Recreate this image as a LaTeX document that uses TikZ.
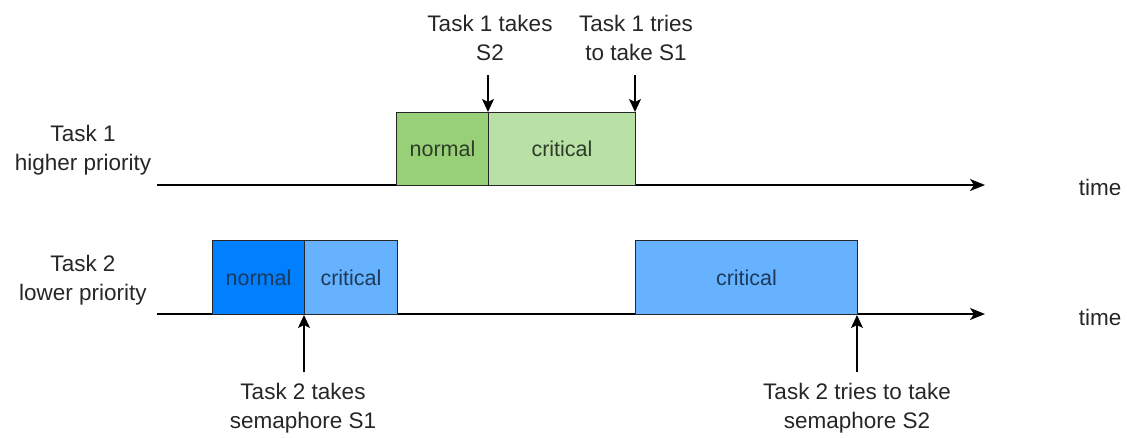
\documentclass[tikz,border=0pt]{standalone}
\usepackage{fontspec}
\setmainfont{Liberation Sans}
\usetikzlibrary{arrows.meta}
\definecolor{greenA}{HTML}{97D077}
\definecolor{greenB}{HTML}{B9E0A5}
\definecolor{blueA}{HTML}{007FFF}
\definecolor{blueB}{HTML}{66B2FF}
\definecolor{inkG}{HTML}{2E3D28}
\definecolor{inkB}{HTML}{1C3A5C}
\begin{document}
\begin{tikzpicture}[x=1pt,y=-1pt,
  lbl/.style={font=\fontsize{22.5}{28.5}\selectfont, text=black!85, align=center, inner sep=0pt, anchor=base},
  slot/.style={draw=black!85, line width=1pt, anchor=north west, inner sep=0pt,
               font=\fontsize{21.5}{24}\selectfont},
  timeline/.style={line width=1.5pt, -{Stealth[length=15pt,width=12pt,inset=4pt]}},
  pointer/.style={line width=1.5pt, -{Stealth[length=13pt,width=12pt,inset=3pt]}}]
\useasboundingbox (0,0) rectangle (1127,437);

% time axes
\coordinate (a1s) at (157,185);
\coordinate (a1e) at (985,185);
\coordinate (a2s) at (157,314);
\coordinate (a2e) at (985,314);
\draw[timeline] (a1s) -- (a1e);
\draw[timeline] (a2s) -- (a2e);

% task 1 slots
\node[slot, fill=greenA, text=inkG, minimum width=92pt, minimum height=73pt] (n1) at (396,112) {normal};
\node[slot, fill=greenB, text=inkG, minimum width=147pt, minimum height=73pt] (c1) at (488,112) {critical};

% task 2 slots
\node[slot, fill=blueA, text=inkB, minimum width=92pt, minimum height=74pt] (n2) at (212,240) {normal};
\node[slot, fill=blueB, text=inkB, minimum width=93pt, minimum height=74pt] (c2) at (304,240) {critical};
\node[slot, fill=blueB, text=inkB, minimum width=222pt, minimum height=74pt] (c3) at (635,240) {critical};

% row labels (anchored on the baseline of their last line)
\node[lbl] (task1) at (83,170) {Task 1\\higher priority};
\node[lbl] (task2) at (83,300) {Task 2\\lower priority};
\node[lbl] (time1) at (1100,195) {time};
\node[lbl] (time2) at (1100,325) {time};

% event labels and pointers
\node[lbl] (e1) at (490,60) {Task 1 takes\\S2};
\node[lbl] (e2) at (636,60) {Task 1 tries\\to take S1};
\node[lbl] (e3) at (303,428) {Task 2 takes\\semaphore S1};
\node[lbl] (e4) at (857,428) {Task 2 tries to take\\semaphore S2};

\coordinate (p1) at (488,75);
\coordinate (p2) at (635,75);
\coordinate (p3) at (304,372);
\coordinate (p4) at (857,372);
\draw[pointer] (p1) -- (p1 |- c1.north west);
\draw[pointer] (p2) -- (p2 |- c1.north east);
\draw[pointer] (p3) -- (p3 |- n2.south east);
\draw[pointer] (p4) -- (p4 |- c3.south east);
\end{tikzpicture}
\end{document}
